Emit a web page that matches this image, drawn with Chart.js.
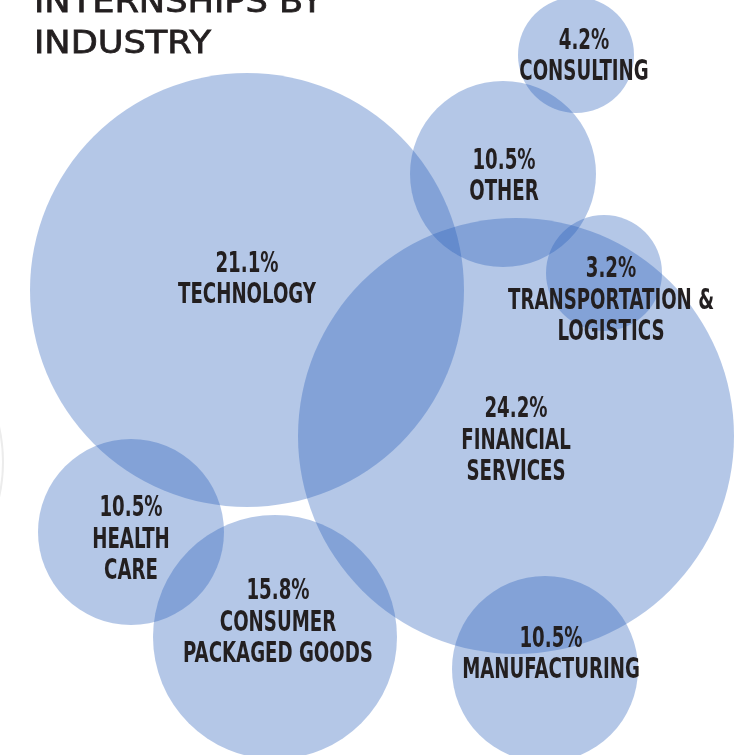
<!DOCTYPE html>
<html lang="en">
<head>
    <meta charset="UTF-8">
    <title>Internships by Industry</title>
    <script src="https://cdn.jsdelivr.net/npm/chart.js"></script>
    <style>
        body {
            margin: 0;
            background: #ffffff;
        }
        .chart-box {
            width: 741px;
            height: 755px;
            overflow: hidden;
        }
    </style>
</head>
<body>
<div class="chart-box">
    <canvas id="bubble-chart" width="741" height="755"></canvas>
</div>

<script>
    // data (x/y in page pixels, r = bubble radius in px)
    const industries = [
        ['TECHNOLOGY'],
        ['FINANCIAL', 'SERVICES'],
        ['OTHER'],
        ['CONSULTING'],
        ['TRANSPORTATION &', 'LOGISTICS'],
        ['HEALTH', 'CARE'],
        ['CONSUMER', 'PACKAGED GOODS'],
        ['MANUFACTURING']
    ];
    const shares = [21.1, 24.2, 10.5, 4.2, 3.2, 10.5, 15.8, 10.5];
    const bubbleX = [247, 516, 503, 576, 604, 131, 275, 545];
    const bubbleY = [290, 436, 174, 55, 273, 532, 637, 669];
    const bubbleR = [217, 218, 93, 58, 58, 93, 122, 93];

    const titleLines = ['INTERNSHIPS BY', 'INDUSTRY'];

    // label block nudges relative to each bubble centre
    const labelShift = [[0, -13], [0, 2], [1, 0], [8, -1], [7, 25], [0, 5], [3, -17], [6, -17]];

    const bubbleData = industries.map((name, i) => ({x: bubbleX[i], y: bubbleY[i], r: bubbleR[i]}));

    function stretchedText(ctx, text, x, y, k, stroke) {
        ctx.save();
        ctx.translate(x, y);
        ctx.scale(k, 1);
        ctx.fillText(text, 0, 0);
        if (stroke) ctx.strokeText(text, 0, 0);
        ctx.restore();
    }

    const labelPlugin = {
        id: 'bubbleLabels',
        afterDatasetsDraw(chart) {
            const ctx = chart.ctx;
            const meta = chart.getDatasetMeta(1);
            ctx.save();
            ctx.fillStyle = '#231f20';
            ctx.strokeStyle = '#231f20';
            ctx.font = "bold 29px 'Liberation Sans Narrow', 'DejaVu Sans Condensed', Roboto, sans-serif";
            const squeeze = 138 / ctx.measureText('TECHNOLOGY').width;
            ctx.textAlign = 'center';
            ctx.textBaseline = 'alphabetic';
            const cap = 21, step = 31.5;
            meta.data.forEach((pt, i) => {
                const lines = [shares[i].toFixed(1) + '%'].concat(industries[i]);
                const h = cap + (lines.length - 1) * step;
                const cx = pt.x + labelShift[i][0];
                let base = pt.y + labelShift[i][1] - h / 2 + cap;
                lines.forEach(t => {
                    stretchedText(ctx, t, cx, base, squeeze, false);
                    base += step;
                });
            });

            // title, top line runs off the page like in the print
            ctx.textAlign = 'left';
            ctx.font = "32px 'DejaVu Sans', sans-serif";
            ctx.lineWidth = 0.8;
            const widen = 177 / ctx.measureText(titleLines[1]).width;
            stretchedText(ctx, titleLines[0], 34, 12, widen, true);
            stretchedText(ctx, titleLines[1], 34, 53, widen, true);
            ctx.restore();
        }
    };

    new Chart(document.getElementById('bubble-chart'), {
        type: 'bubble',
        data: {
            datasets: [
                {
                    // faint grey edge peeking in at the left
                    data: [{x: -157, y: 462, r: 160}],
                    backgroundColor: 'rgba(0,0,0,0)',
                    borderColor: '#ececec',
                    borderWidth: 2,
                    clip: false
                },
                {
                    data: bubbleData,
                    backgroundColor: 'rgba(40, 95, 185, 0.35)',
                    borderWidth: 0,
                    clip: false
                }
            ]
        },
        options: {
            responsive: false,
            animation: false,
            layout: {padding: 0, autoPadding: false},
            events: [],
            plugins: {
                legend: {display: false},
                tooltip: {enabled: false},
                title: {display: false}
            },
            scales: {
                x: {type: 'linear', min: 0, max: 741, display: false},
                y: {type: 'linear', min: 0, max: 755, reverse: true, display: false}
            }
        },
        plugins: [labelPlugin]
    });
</script>
</body>
</html>
